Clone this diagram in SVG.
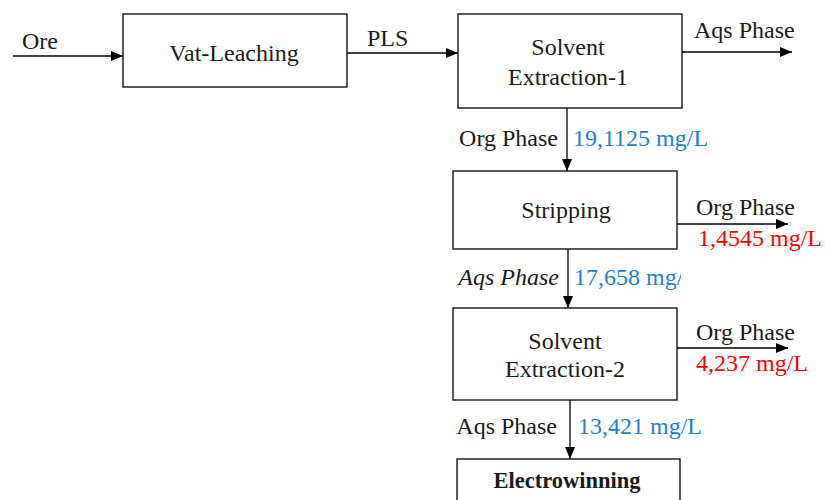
<svg xmlns="http://www.w3.org/2000/svg" width="825" height="500" viewBox="0 0 825 500" font-family="'Liberation Serif', 'Times New Roman', Times, 'DejaVu Serif', serif">
  <style>
    .box { fill: #ffffff; stroke: #000000; stroke-width: 1.3; }
    .flow { stroke: #000000; stroke-width: 1.3; fill: none; marker-end: url(#arrow); }
    text { font-family: 'Liberation Serif', 'Times New Roman', Times, 'DejaVu Serif', serif; font-size: 24px; fill: #1a1a1a; }
    .mid { text-anchor: middle; }
    .end { text-anchor: end; }
    .blue { fill: #1f7fc6; }
    .red { fill: #ff0000; }
    .bold { font-weight: bold; font-size: 22.5px; }
    .ital { font-style: italic; }
  </style>
  <defs>
    <marker id="arrow" viewBox="0 0 12 10" refX="12" refY="5" markerWidth="12" markerHeight="10" markerUnits="userSpaceOnUse" orient="auto">
      <path d="M0,0 L12,5 L0,10 Z" fill="#000000"/>
    </marker>
    <clipPath id="cut-right">
      <rect x="560" y="250" width="121" height="50"/>
    </clipPath>
  </defs>

  <g id="connectors">
    <line class="flow" x1="13" y1="56" x2="123" y2="56"/>
    <line class="flow" x1="347" y1="53" x2="458" y2="53"/>
    <line class="flow" x1="682" y1="52" x2="792" y2="52"/>
    <line class="flow" x1="567" y1="108" x2="567" y2="171"/>
    <line class="flow" x1="677" y1="224" x2="788" y2="224"/>
    <line class="flow" x1="568" y1="249" x2="568" y2="308"/>
    <line class="flow" x1="677" y1="348" x2="788" y2="348"/>
    <line class="flow" x1="570" y1="400" x2="570" y2="459"/>
  </g>

  <g id="labels">
    <text x="22" y="49">Ore</text>
    <text x="367" y="46">PLS</text>
    <text x="694" y="38">Aqs Phase</text>
    <text class="end" x="558" y="146">Org Phase</text>
    <text class="blue" x="573" y="146">19,1125 mg/L</text>
    <text x="696" y="215">Org Phase</text>
    <text class="red" x="698" y="246">1,4545 mg/L</text>
    <text class="end ital" x="559" y="285">Aqs Phase</text>
    <text class="blue" x="574" y="285" clip-path="url(#cut-right)">17,658 mg/</text>
    <text x="696" y="340">Org Phase</text>
    <text class="red" x="696" y="371">4,237 mg/L</text>
    <text class="end" x="557" y="434">Aqs Phase</text>
    <text class="blue" x="578" y="434">13,421 mg/L</text>
  </g>

  <g id="vat-leaching">
    <rect class="box" x="123" y="14" width="224" height="73"/>
    <text class="mid" x="234" y="61">Vat-Leaching</text>
  </g>

  <g id="solvent-extraction-1">
    <rect class="box" x="458" y="14" width="224" height="94"/>
    <text class="mid" x="568" y="55">Solvent</text>
    <text class="mid" x="568" y="85">Extraction-1</text>
  </g>

  <g id="stripping">
    <rect class="box" x="453" y="171" width="224" height="78"/>
    <text class="mid" x="566" y="218">Stripping</text>
  </g>

  <g id="solvent-extraction-2">
    <rect class="box" x="453" y="308" width="224" height="92"/>
    <text class="mid" x="565" y="349">Solvent</text>
    <text class="mid" x="565" y="377">Extraction-2</text>
  </g>

  <g id="electrowinning">
    <rect class="box" x="457" y="459" width="223" height="60"/>
    <text class="mid bold" x="567" y="488">Electrowinning</text>
  </g>
</svg>
